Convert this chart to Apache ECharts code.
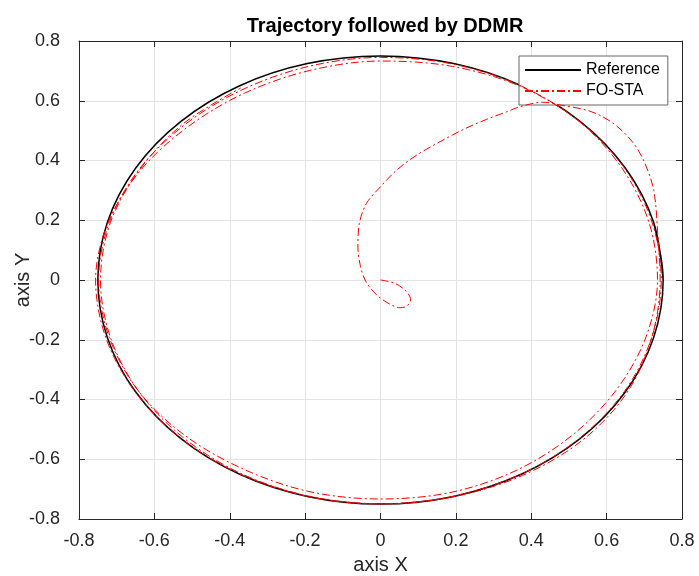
<!DOCTYPE html>
<html>
<head>
<meta charset="utf-8">
<script src="https://cdn.jsdelivr.net/npm/echarts@6/dist/echarts.min.js"></script>
<style>
html,body{margin:0;padding:0;background:#fff;}
#chart{width:699px;height:576px;}
</style>
</head>
<body>
<div id="chart"></div>
<script>
// ---- data ----
var titleText = 'Trajectory followed by DDMR';
var xTicks = [-0.8, -0.6, -0.4, -0.2, 0, 0.2, 0.4, 0.6, 0.8];
var yTicks = [-0.8, -0.6, -0.4, -0.2, 0, 0.2, 0.4, 0.6, 0.8];
var seriesNames = ['Reference', 'FO-STA'];

// Reference circle (radius 0.75)
var referenceXY = [
  [0.75, 0], [0.7244, 0.1941], [0.6495, 0.375], [0.5303, 0.5303], [0.375, 0.6495],
  [0.1941, 0.7244], [0, 0.75], [-0.1941, 0.7244], [-0.375, 0.6495], [-0.5303, 0.5303],
  [-0.6495, 0.375], [-0.7244, 0.1941], [-0.75, 0], [-0.7244, -0.1941], [-0.6495, -0.375],
  [-0.5303, -0.5303], [-0.375, -0.6495], [-0.1941, -0.7244], [0, -0.75], [0.1941, -0.7244],
  [0.375, -0.6495], [0.5303, -0.5303], [0.6495, -0.375], [0.7244, -0.1941], [0.75, 0],
  [0.7244, 0.1941]
];

// FO-STA trajectory: start loop and spiral arm
var fostaStart = [
  [0, 0], [0.038, -0.011], [0.069, -0.039], [0.080, -0.067], [0.07, -0.087], [0.052, -0.093],
  [0.03, -0.084], [0, -0.061], [-0.023, -0.033], [-0.041, 0], [-0.053, 0.045], [-0.06, 0.11],
  [-0.056, 0.19], [-0.037, 0.257], [0, 0.312], [0.043, 0.368], [0.096, 0.418], [0.158, 0.463],
  [0.22, 0.504], [0.282, 0.538], [0.335, 0.563], [0.37, 0.58], [0.43, 0.595], [0.476, 0.586],
  [0.556, 0.565], [0.617, 0.525], [0.67, 0.46], [0.70, 0.395], [0.725, 0.30], [0.7356, 0.1563]
];
// first turn
var fostaTurn1 = [
  [0.742, 0], [0.7196, -0.1928], [0.6538, -0.3775], [0.536, -0.536], [0.3775, -0.6538],
  [0.1944, -0.7254], [0, -0.75], [-0.1941, -0.7244], [-0.3745, -0.6487], [-0.5296, -0.5296],
  [-0.6504, -0.3755], [-0.7283, -0.1951], [-0.756, 0], [-0.7225, 0.1936], [-0.6365, 0.3675],
  [-0.512, 0.512], [-0.361, 0.6253], [-0.1879, 0.7013], [0, 0.733], [0.1915, 0.7148],
  [0.3735, 0.6469], [0.5289, 0.5289]
];
// second turn
var fostaTurn2 = [
  [0.6426, 0.371], [0.7129, 0.191], [0.735, 0], [0.7051, -0.1889], [0.6287, -0.363],
  [0.5141, -0.5141], [0.366, -0.6339], [0.1902, -0.71], [0, -0.733], [-0.1897, -0.708],
  [-0.365, -0.6322], [-0.5197, -0.5197], [-0.6426, -0.371], [-0.7196, -0.1928], [-0.748, 0],
  [-0.7196, 0.1928], [-0.6409, 0.37], [-0.5197, 0.5197], [-0.3675, 0.6365], [-0.1915, 0.7148],
  [0, 0.745], [0.1936, 0.7225], [0.3745, 0.6487], [0.5296, 0.5296]
];
// third (partial) turn
var fostaTurn3 = [
  [0.6478, 0.374], [0.7206, 0.1931], [0.745, 0], [0.7196, -0.1928], [0.6469, -0.3735],
  [0.5289, -0.5289], [0.3745, -0.6487], [0.1939, -0.7235], [0, -0.749], [-0.1936, -0.7225],
  [-0.373, -0.6461], [-0.5254, -0.5254], [-0.6426, -0.371], [-0.7167, -0.192], [-0.743, 0],
  [-0.7167, 0.192], [-0.6391, 0.369], [-0.5233, 0.5233], [-0.371, 0.6426]
];

var fostaXY = fostaStart.concat(fostaTurn1, fostaTurn2, fostaTurn3);

// ---- chart ----
var FONT = 'Liberation Sans, Arial, Helvetica, sans-serif';
var chart = echarts.init(document.getElementById('chart'), null, {renderer: 'canvas'});

function fmt(v) {
  var r = Math.round(v * 10) / 10;
  if (r === 0) return '0';
  return String(r);
}

var axisCommon = {
  type: 'value',
  min: -0.8,
  max: 0.8,
  interval: 0.2,
  axisLine: {show: true, onZero: false, lineStyle: {color: '#262626', width: 1}},
  axisTick: {show: true, inside: true, length: 6, lineStyle: {color: '#262626'}}
};

var option = {
  animation: false,
  backgroundColor: '#ffffff',
  title: {
    text: titleText,
    left: 380,
    textAlign: 'center',
    top: 11,
    textStyle: {fontFamily: FONT, fontSize: 20, fontWeight: 'bold', color: '#000'}
  },
  legend: {
    data: seriesNames,
    orient: 'vertical',
    left: 519,
    top: 56,
    backgroundColor: '#ffffff',
    borderColor: '#666666',
    borderWidth: 1,
    borderRadius: 0,
    padding: [6, 8, 6, 5],
    itemGap: 5,
    itemWidth: 56,
    itemHeight: 10,
    itemStyle: {opacity: 0},
    textStyle: {fontFamily: FONT, fontSize: 16, color: '#000'}
  },
  grid: {left: 79, right: 17, top: 41, bottom: 57, containLabel: false, outerBoundsMode: 'none'},
  xAxis: [
    Object.assign({}, axisCommon, {
      position: 'bottom',
      name: 'axis X',
      nameLocation: 'middle',
      nameGap: 36,
      nameMoveOverlap: false,
      nameTextStyle: {fontFamily: FONT, fontSize: 20, color: '#262626'},
      splitLine: {show: true, lineStyle: {color: '#e3e3e3', width: 1}},
      axisLabel: {formatter: fmt, fontFamily: FONT, fontSize: 18, color: '#262626', margin: 13}
    }),
    Object.assign({}, axisCommon, {
      position: 'top',
      splitLine: {show: false},
      axisLabel: {show: false}
    })
  ],
  yAxis: [
    Object.assign({}, axisCommon, {
      position: 'left',
      name: 'axis Y',
      nameLocation: 'middle',
      nameGap: 46,
      nameMoveOverlap: false,
      nameTextStyle: {fontFamily: FONT, fontSize: 20, color: '#262626'},
      splitLine: {show: true, lineStyle: {color: '#e3e3e3', width: 1}},
      axisLabel: {formatter: fmt, fontFamily: FONT, fontSize: 18, color: '#262626', margin: 19}
    }),
    Object.assign({}, axisCommon, {
      position: 'right',
      splitLine: {show: false},
      axisLabel: {show: false}
    })
  ],
  series: [
    {
      name: seriesNames[0],
      type: 'line',
      xAxisIndex: 0,
      yAxisIndex: 0,
      data: referenceXY,
      smooth: 0.33,
      symbol: 'none',
      color: '#000000',
      lineStyle: {color: '#000000', width: 1.5, type: 'solid'},
      z: 3
    },
    {
      name: seriesNames[1],
      type: 'line',
      xAxisIndex: 0,
      yAxisIndex: 0,
      data: fostaXY,
      smooth: 0.33,
      symbol: 'none',
      color: '#ff0000',
      lineStyle: {color: '#ff0000', width: 1, type: [8, 3, 2, 3]},
      z: 4
    }
  ]
};
chart.setOption(option);
</script>
</body>
</html>
